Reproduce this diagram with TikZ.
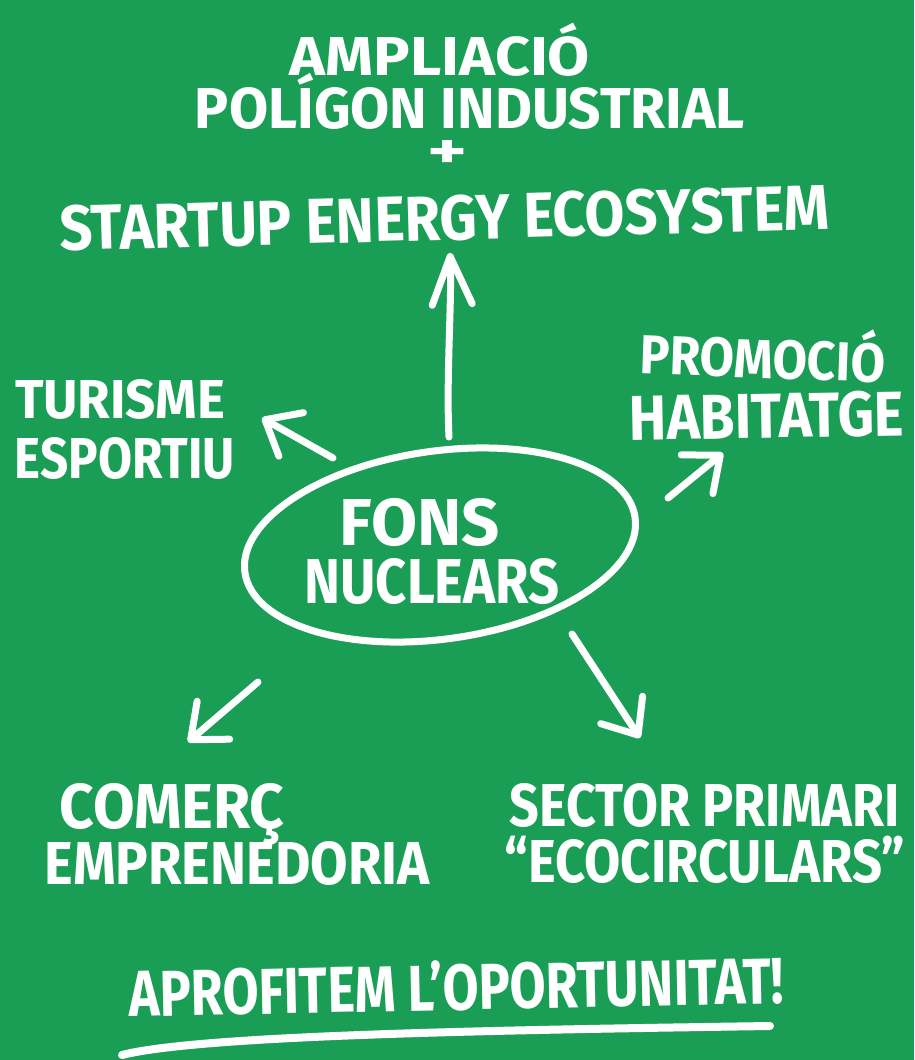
\documentclass[tikz,border=0pt]{standalone}
\usepackage{fontspec}
\setmainfont{Fira Sans}
\usetikzlibrary{arrows.meta,shapes.geometric}
\definecolor{bg}{RGB}{26,158,85}
% width, cap height, text
\newcommand{\hw}[3]{\resizebox{#1}{#2}{\bfseries\vphantom{H}\smash{#3}}}
\begin{document}
\begin{tikzpicture}[x=1pt,y=-1pt,
  lbl/.style={text=white, inner sep=0pt, anchor=base},
  pen/.style={draw=white, line width=7pt, line cap=round, line join=round},
  tipbig/.style={-{Straight Barb[length=48pt,width=40pt,round]}},
  tipsmall/.style={-{Straight Barb[length=30pt,width=50pt,round]}}]
\fill[bg] (0,0) rectangle (914,1060);
\useasboundingbox (0,0) rectangle (914,1060);

% top block
\node[lbl] (amp) at (440,75) {\hw{300pt}{38pt}{AMPLIACIÓ}};
\node[lbl] (pol) at (470,128) {\hw{550pt}{40pt}{POLÍGON INDUSTRIAL}};
\node[lbl,anchor=center] (plus) at (447,154) {\resizebox{40pt}{28pt}{\bfseries +}};
\node[lbl,rotate=1.6] (st) at (445,240) {\hw{770pt}{44pt}{STARTUP ENERGY ECOSYSTEM}};

% right
\node[lbl,rotate=-2] (pro) at (762,378) {\hw{245pt}{38pt}{PROMOCIÓ}};
\node[lbl,rotate=1] (hab) at (767,438) {\hw{275pt}{44pt}{HABITATGE}};

% left
\node[lbl] (tur) at (120,418) {\hw{210pt}{38pt}{TURISME}};
\node[lbl] (esp) at (125,478) {\hw{220pt}{40pt}{ESPORTIU}};

% centre
\node[pen, ellipse, inner sep=0pt, minimum width=394pt, minimum height=188pt, rotate=8] (core) at (440,545) {};
\node[lbl] (fons) at (420,545) {\hw{160pt}{46pt}{FONS}};
\node[lbl] (nuc) at (432,603) {\hw{255pt}{44pt}{NUCLEARS}};

% bottom
\node[lbl] (com) at (172,828) {\hw{225pt}{44pt}{COMERÇ}};
\node[lbl] (emp) at (237,884) {\hw{385pt}{42pt}{EMPRENEDORIA}};
\node[lbl] (sec) at (705,826) {\hw{390pt}{42pt}{SECTOR PRIMARI}};
\node[lbl] (eco) at (705,882) {\hw{400pt}{42pt}{“ECOCIRCULARS”}};

\node[lbl,rotate=1.2] (apr) at (457,1010) {\hw{655pt}{45pt}{APROFITEM L’OPORTUNITAT!}};
\coordinate (ulA) at (122,1055);
\coordinate (ulB) at (770,1026);
\draw[pen, line width=8pt] (ulA) .. controls (200,1035) and (500,1030) .. (ulB);

% arrows
\coordinate (upS) at (449,437); \coordinate (upE) at (450,253);
\coordinate (tlS) at (333,458); \coordinate (tlE) at (262,418);
\coordinate (trS) at (668,498); \coordinate (trE) at (723,453);
\coordinate (blS) at (258,682); \coordinate (blE) at (188,742);
\coordinate (brS) at (572,634); \coordinate (brE) at (640,738);
\draw[pen, tipbig] (upS) .. controls (446,380) and (452,300) .. (upE);
\draw[pen, tipsmall] (tlS) -- (tlE);
\draw[pen, tipsmall] (trS) -- (trE);
\draw[pen, tipsmall] (blS) -- (blE);
\draw[pen, tipsmall] (brS) -- (brE);
\end{tikzpicture}
\end{document}
